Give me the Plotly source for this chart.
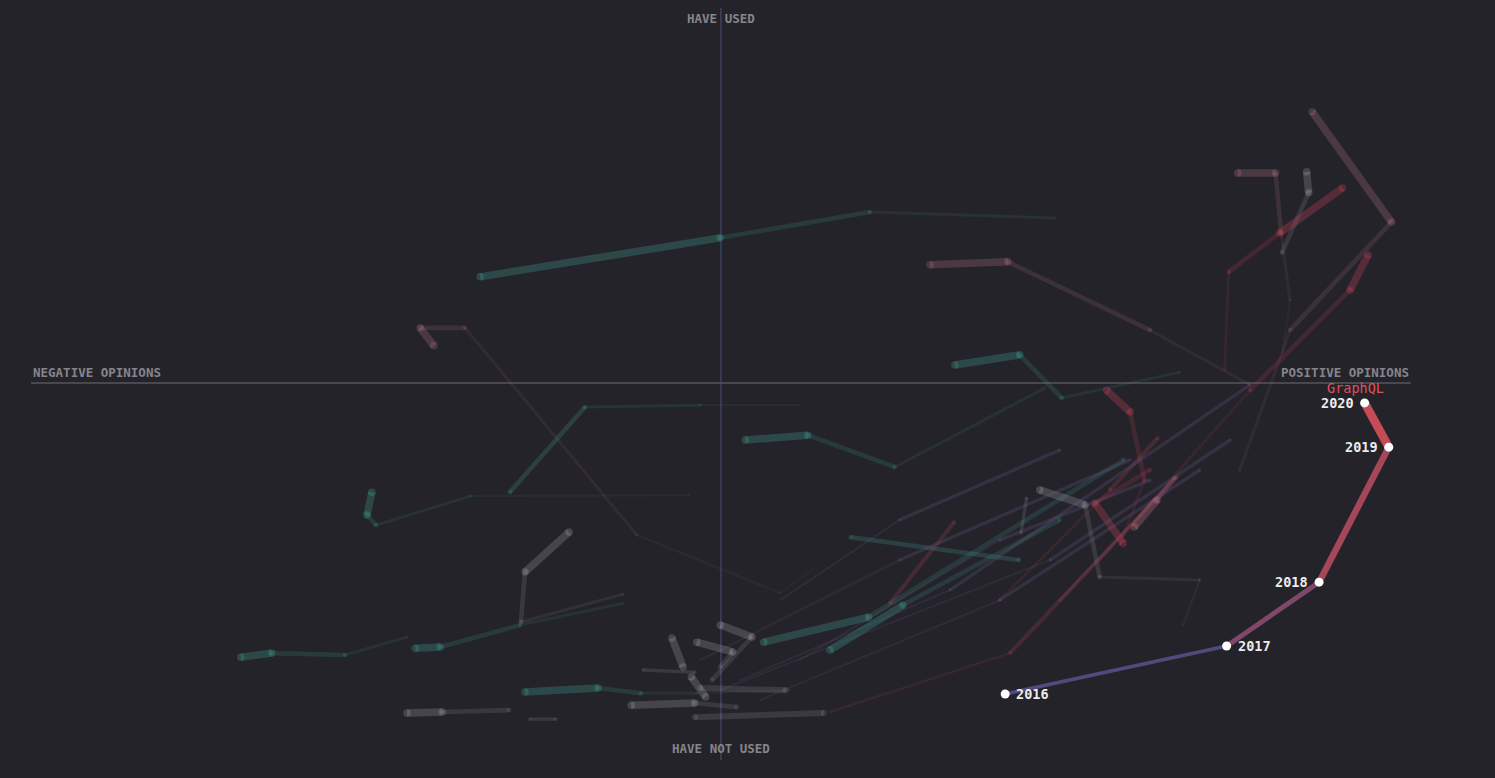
import plotly.graph_objects as go

BG = "#242329"

# x: opinion score (-100 negative .. +100 positive)
# y: usage score (-100 have not used .. +100 have used)
# every trail runs from its oldest survey year up to 2020
TRAIL_X = [
    [48.4, 21.6, -0.1, -34.9],
    [76.7, 62.2, 41.6, 30.3],
    [73.0, 73.6, 81.0, 90.1],
    [81.4, 82.5, 81.2, 80.4, 74.9],
    [81.3, 85.2, 84.9],
    [54.9, 76.7, 91.2, 93.8],
    [75.2, 82.5, 97.2, 85.7],
    [57.8, 61.4, 59.3, 55.9],
    [67.0, 69.4, 54.9, 52.8, 46.2],
    [40.4, 56.4, 63.3],
    [62.2, 54.2, 58.3],
    [49.1, 65.8, 63.2, 59.9],
    [15.8, 41.9, 66.1],
    [58.4, 21.4, 6.2],
    [49.1, 26.4, 15.8],
    [43.2, 18.8],
    [66.5, 49.4, 43.3, 33.9],
    [47.0, 25.2, 12.6, 3.5],
    [11.4, -3.0, -19.7, -30.6],
    [-4.6, -36.2, -50.0, -51.3, -50.6],
    [13.6, 8.6, -12.2, -37.1, -43.6, -41.6],
    [-14.2, -29.0, -28.4, -22.0],
    [-45.5, -54.5, -65.1, -69.6],
    [-14.2, -29.1, -40.7, -44.3],
    [-30.7, -40.4, -45.5],
    [-23.9, -27.7],
    [10.0, -3.5, -11.6, -17.8, -28.4],
    [-1.3, 4.5, -0.1],
    [-0.1, 1.7, -3.5],
    [-5.5, -7.1],
    [-3.8, -11.3],
    [-2.2, -4.3],
    [2.3, -3.8, -13.0],
    [14.9, -3.8],
    [9.4, -3.0],
    [24.5, 33.8],
    [43.5, 44.3],
    [2.8, 33.2, 76.7],
    [5.7, 40.4, 69.4],
    [-3.0, 25.9, 59.3],
    [-0.1, 47.7, 73.8],
    [8.6, 25.9, 49.1],
    [11.4, 40.4, 62.2],
]
TRAIL_Y = [
    [44.0, 45.6, 38.7, 28.3],
    [-0.5, 14.1, 32.3, 31.5],
    [3.5, 29.6, 40.0, 52.0],
    [8.0, 22.1, 40.0, 56.0, 56.0],
    [34.7, 50.7, 56.3],
    [-47.2, -1.9, 24.8, 34.1],
    [-23.2, 14.1, 42.9, 72.3],
    [-43.2, -25.9, -7.7, -1.9],
    [-64.5, -52.5, -51.7, -32.5, -28.5],
    [-57.9, -28.5, -14.7],
    [-23.2, -32.0, -42.7],
    [-57.9, -25.3, -31.2, -38.4],
    [-87.7, -72.0, -25.1],
    [-20.5, -62.4, -69.1],
    [-36.5, -59.2, -71.2],
    [-47.2, -41.1],
    [2.9, -4.0, 7.5, 4.8],
    [-1.3, -22.4, -13.9, -15.2],
    [-5.9, -5.9, -6.4, -29.1],
    [-29.9, -30.1, -37.9, -35.2, -29.1],
    [-49.3, -56.0, -40.5, 14.7, 14.7, 9.9],
    [-56.3, -63.7, -50.4, -39.7],
    [-67.7, -72.5, -72.0, -73.1],
    [-58.7, -64.5, -70.4, -70.7],
    [-87.2, -87.7, -88.0],
    [-89.6, -89.6],
    [-81.9, -82.7, -82.7, -81.3, -82.4],
    [-79.2, -67.7, -64.5],
    [-75.7, -71.7, -69.1],
    [-75.7, -68.0],
    [-77.1, -76.5],
    [-83.7, -78.4],
    [-86.4, -85.3, -85.9],
    [-88.0, -89.1],
    [-81.9, -81.3],
    [-58.7, -37.1],
    [-40.0, -30.7],
    [-79.2, -55.2, -0.5],
    [-84.5, -57.9, -23.2],
    [-73.9, -47.2, -20.5],
    [-81.9, -47.2, -15.2],
    [-57.9, -36.5, -17.9],
    [-73.9, -41.9, -25.9],
]
TRAIL_TONE = [
    "teal", "rose", "red", "rose", "gray", "red", "rose", "red", "gray", "dimred",
    "red", "pink", "dimred", "teal", "teal", "dimteal", "teal", "teal", "dimteal", "teal",
    "rose", "gray", "teal", "teal", "gray", "faint", "teal", "gray", "gray", "gray",
    "faint", "gray", "gray", "dimgray", "dimgray", "dimred", "faint",
    "violet", "violet", "violet", "violet", "violet", "violet",
]

GQL_YEARS = [2016, 2017, 2018, 2019, 2020]
GQL_X = [41.2, 73.3, 86.7, 96.8, 93.3]
GQL_Y = [-82.9, -70.1, -53.1, -17.1, -5.3]

# tone -> (rgb, width scale, alpha scale)
TONES = {
    "teal": ((62, 160, 146), 1.0, 1.0),
    "dimteal": ((62, 160, 146), 0.6, 0.8),
    "gray": ((172, 168, 180), 1.0, 0.85),
    "dimgray": ((172, 168, 180), 0.8, 0.6),
    "red": ((200, 66, 88), 1.0, 1.0),
    "dimred": ((190, 70, 90), 0.55, 0.7),
    "pink": ((215, 130, 150), 1.0, 0.9),
    "rose": ((165, 110, 126), 1.0, 1.0),
    "violet": ((120, 100, 160), 0.45, 0.7),
    "faint": ((160, 156, 170), 0.45, 0.6),
}
# by age of a segment (0 = 2019-2020)
SEG_WIDTH = [7.5, 4.6, 3.0, 2.2, 1.6]
SEG_ALPHA = [0.30, 0.19, 0.12, 0.085, 0.065]

fig = go.Figure()

segments = []
for xs, ys, tone in zip(TRAIL_X, TRAIL_Y, TRAIL_TONE):
    n = len(xs) - 1
    for i in range(n):
        age = n - 1 - i
        segments.append((age, xs[i:i + 2], ys[i:i + 2], tone))
segments.sort(key=lambda s: -s[0])

for age, sx, sy, tone in segments:
    rgb, ws, al = TONES[tone]
    w = SEG_WIDTH[min(age, 4)] * ws
    a = SEG_ALPHA[min(age, 4)] * al
    col = "rgba(%d,%d,%d,%.3f)" % (rgb + (a,))
    fig.add_trace(go.Scatter(
        x=sx, y=sy, mode="lines+markers",
        line=dict(color=col, width=w),
        marker=dict(size=w, color=col, line=dict(width=0)),
        hoverinfo="skip", showlegend=False,
    ))

gql_cols = ["#514a7e", "#804868", "#a6465b", "#c64b56"]
gql_w = [3.5, 5.0, 6.5, 8.5]
for i in range(4):
    fig.add_trace(go.Scatter(
        x=GQL_X[i:i + 2], y=GQL_Y[i:i + 2], mode="lines",
        line=dict(color=gql_cols[i], width=gql_w[i]),
        hoverinfo="skip", showlegend=False,
    ))
fig.add_trace(go.Scatter(
    x=GQL_X, y=GQL_Y, mode="markers",
    marker=dict(size=9, color="white"),
    text=[str(y) for y in GQL_YEARS],
    hovertemplate="GraphQL %{text}<extra></extra>", showlegend=False,
))

mono = "DejaVu Sans Mono"
label_font = dict(family=mono, size=12.5, color="#86848c", weight="bold")
year_font = dict(family=mono, size=13.5, color="#ececec", weight="bold")

annotations = [
    dict(x=0, y=97.2, text="HAVE USED", xanchor="center", yanchor="middle", font=label_font),
    dict(x=0, y=-97.5, text="HAVE NOT USED", xanchor="center", yanchor="middle", font=label_font),
    dict(x=-100, y=2.7, text="NEGATIVE OPINIONS", xanchor="left", yanchor="middle", font=label_font),
    dict(x=100, y=2.7, text="POSITIVE OPINIONS", xanchor="right", yanchor="middle", font=label_font),
    dict(x=GQL_X[-1], y=GQL_Y[-1], text="GraphQL", xanchor="center", yanchor="middle",
         xshift=-9, yshift=15, font=dict(family=mono, size=13.5, color="#e0505e")),
]
sides = ["left", "left", "right", "right", "right"]  # 2016..2020 label anchor
for yr, x, y, side in zip(GQL_YEARS, GQL_X, GQL_Y, sides):
    shift = 9 if side == "left" else -9
    annotations.append(dict(x=x, y=y, text=str(yr), xanchor=side, yanchor="middle",
                            xshift=shift, font=year_font))

fig.update_layout(
    width=1495, height=778,
    margin=dict(l=0, r=0, t=0, b=0),
    paper_bgcolor=BG, plot_bgcolor=BG,
    xaxis=dict(range=[-104.5, 112.2], visible=False, fixedrange=True),
    yaxis=dict(range=[-105.3, 102.1], visible=False, fixedrange=True),
    shapes=[
        dict(type="line", x0=-100, x1=100, y0=0, y1=0, line=dict(color="#56555d", width=1.5), layer="below"),
        dict(type="line", x0=0, x1=0, y0=-100.5, y1=100, line=dict(color="#4c5078", width=1), layer="below"),
    ],
    annotations=[dict(a, showarrow=False) for a in annotations],
)

fig.write_html("out.html", config={"displayModeBar": False},
               post_script="document.body.style.margin='0';document.body.style.background='%s';" % BG)
